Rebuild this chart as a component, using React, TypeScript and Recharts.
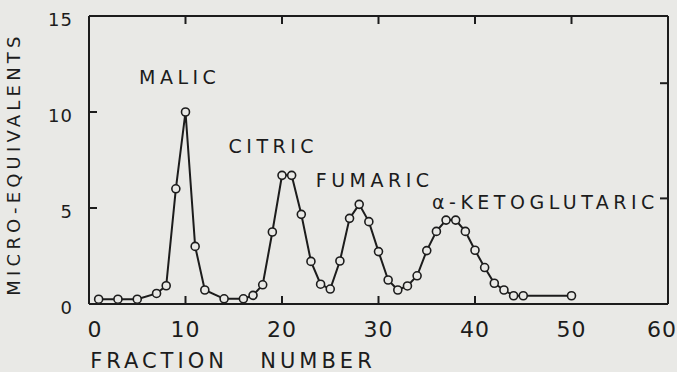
import React from 'react';
import {
  LineChart,
  Line,
  XAxis,
  YAxis,
  ReferenceDot,
  Label
} from 'recharts';

// fraction number / micro-equivalents
const fractions = [1, 3, 5, 7, 8, 9, 10, 11, 12, 14, 16, 17, 18, 19, 20, 21, 22, 23, 24, 25, 26, 27, 28, 29, 30, 31, 32, 33, 34, 35, 36, 37, 38, 39, 40, 41, 42, 43, 44, 45, 50];
const microEquivalents = [0.25, 0.25, 0.25, 0.55, 0.95, 6.0, 10.0, 3.0, 0.73, 0.27, 0.27, 0.45, 1.0, 3.75, 6.7, 6.7, 4.67, 2.22, 1.03, 0.78, 2.24, 4.46, 5.19, 4.29, 2.73, 1.25, 0.73, 0.94, 1.47, 2.78, 3.78, 4.37, 4.37, 3.78, 2.8, 1.9, 1.08, 0.73, 0.43, 0.43, 0.43];

const xTicks = [0, 10, 20, 30, 40, 50, 60];
const yTicks = [0, 5, 10, 15];

// inward tick marks on the frame
const bottomMarks = [10, 20, 30, 40];
const topMarks = [10, 20, 30, 40, 50];
const leftMarks = [5, 10];
const rightMarks = [5.5, 11.5];

const peakNames = ['MALIC', 'CITRIC', 'FUMARIC', 'α-KETOGLUTARIC'];
const peakX = [9.4, 19.1, 29.6, 47.3];
const peakY = [11.8, 8.2, 6.45, 5.3];

const data = fractions.map((f, i) => ({ fraction: f, value: microEquivalents[i] }));

const INK = '#1c1c1c';
const PAPER = '#e9e9e6';
const FONT = '"DejaVu Sans", sans-serif';
const MARK = 8;

const BottomTick = (props: any) => {
  const { x, y, payload } = props;
  const v = payload.value;
  const dx = v === 0 ? 6 : v === 60 ? -6 : 0;
  return (
    <text x={x + dx} y={y + 33} textAnchor="middle" fontSize={22} fill={INK} fontFamily={FONT} letterSpacing={1}>
      {v}
    </text>
  );
};

const LeftTick = (props: any) => {
  const { x, y, payload } = props;
  return (
    <text x={x - 16} y={y + 5} textAnchor="end" dominantBaseline="middle" fontSize={18} fill={INK} fontFamily={FONT} letterSpacing={1}>
      {payload.value}
    </text>
  );
};

const XTitle = (props: any) => {
  const { viewBox } = props;
  const y = viewBox.y + 64;
  return (
    <g>
      <text x={159} y={y} textAnchor="middle" fontSize={21} fill={INK} fontFamily={FONT} letterSpacing={4}>
        FRACTION
      </text>
      <text x={318} y={y} textAnchor="middle" fontSize={21} fill={INK} fontFamily={FONT} letterSpacing={4}>
        NUMBER
      </text>
    </g>
  );
};

const YTitle = (props: any) => {
  const { viewBox } = props;
  const cy = viewBox.y + viewBox.height / 2 + 4;
  return (
    <text x={15} y={cy} transform={`rotate(-90, 15, ${cy})`} textAnchor="middle" dominantBaseline="middle" fontSize={18} fill={INK} fontFamily={FONT} letterSpacing={4.2}>
      MICRO-EQUIVALENTS
    </text>
  );
};

const markShape = (dx: number, dy: number) => (p: any) => (
  <line x1={p.cx} y1={p.cy} x2={p.cx + dx} y2={p.cy + dy} stroke={INK} strokeWidth={2} />
);

export default function App() {
  return (
    <div style={{ position: 'absolute', left: 0, top: 0, width: 677, height: 372, background: PAPER }}>
      <LineChart width={677} height={372} data={data} margin={{ top: 6, right: 4, bottom: 38, left: 49 }}>
        <XAxis
          xAxisId="bottom"
          dataKey="fraction"
          type="number"
          domain={[0, 60]}
          ticks={xTicks}
          height={30}
          tickSize={0}
          tickMargin={0}
          tickLine={false}
          axisLine={{ stroke: INK, strokeWidth: 2 }}
          tick={<BottomTick />}
          interval={0}
        >
          <Label content={<XTitle />} />
        </XAxis>
        <XAxis
          xAxisId="top"
          orientation="top"
          dataKey="fraction"
          type="number"
          domain={[0, 60]}
          height={10}
          tickLine={false}
          axisLine={{ stroke: INK, strokeWidth: 2 }}
          tick={false}
        />
        <YAxis
          yAxisId="left"
          type="number"
          domain={[0, 15]}
          ticks={yTicks}
          width={40}
          tickSize={0}
          tickMargin={0}
          tickLine={false}
          axisLine={{ stroke: INK, strokeWidth: 2 }}
          tick={<LeftTick />}
          interval={0}
        >
          <Label content={<YTitle />} />
        </YAxis>
        <YAxis
          yAxisId="right"
          orientation="right"
          type="number"
          domain={[0, 15]}
          width={5}
          tickLine={false}
          axisLine={{ stroke: INK, strokeWidth: 2 }}
          tick={false}
        />
        {bottomMarks.map((v) => (
          <ReferenceDot key={`b${v}`} xAxisId="bottom" yAxisId="left" x={v} y={0} r={1} shape={markShape(0, -MARK)} />
        ))}
        {topMarks.map((v) => (
          <ReferenceDot key={`t${v}`} xAxisId="bottom" yAxisId="left" x={v} y={15} r={1} shape={markShape(0, MARK)} />
        ))}
        {leftMarks.map((v) => (
          <ReferenceDot key={`l${v}`} xAxisId="bottom" yAxisId="left" x={0} y={v} r={1} shape={markShape(MARK, 0)} />
        ))}
        {rightMarks.map((v) => (
          <ReferenceDot key={`r${v}`} xAxisId="bottom" yAxisId="left" x={60} y={v} r={1} shape={markShape(-MARK, 0)} />
        ))}
        <Line
          xAxisId="bottom"
          yAxisId="left"
          type="linear"
          dataKey="value"
          stroke={INK}
          strokeWidth={2}
          dot={{ r: 4, fill: PAPER, stroke: INK, strokeWidth: 1.6 }}
          isAnimationActive={false}
        />
        {peakNames.map((name, i) => (
          <ReferenceDot
            key={name}
            xAxisId="bottom"
            yAxisId="left"
            x={peakX[i]}
            y={peakY[i]}
            r={0}
            fill="none"
            stroke="none"
            label={{
              value: name,
              position: 'center',
              fontSize: 19,
              fill: INK,
              fontFamily: FONT,
              letterSpacing: 4.5
            }}
          />
        ))}
      </LineChart>
    </div>
  );
}
